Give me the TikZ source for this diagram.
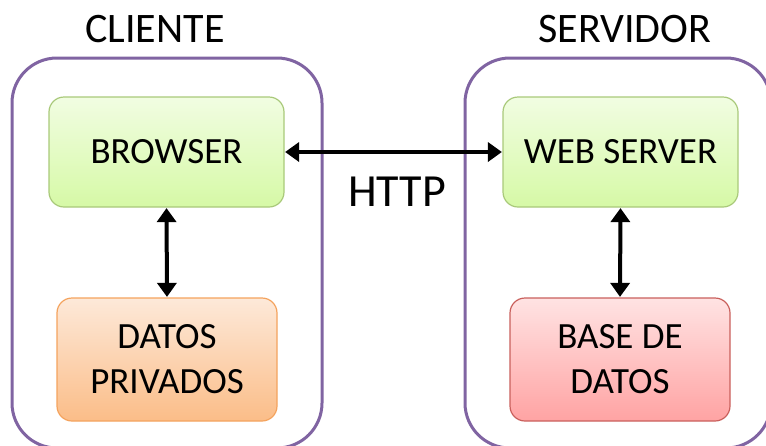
\documentclass[tikz,border=0pt]{standalone}
\usepackage{fontspec}
\setmainfont{Carlito}
\usetikzlibrary{arrows.meta}
\definecolor{groupline}{HTML}{8064A2}
\definecolor{greentop}{HTML}{F1FDE2}
\definecolor{greenbot}{HTML}{D6F9A6}
\definecolor{greenline}{HTML}{A9C97A}
\definecolor{orangetop}{HTML}{FDE9D9}
\definecolor{orangebot}{HTML}{FBBD88}
\definecolor{orangeline}{HTML}{F4A35E}
\definecolor{redtop}{HTML}{FFE3E3}
\definecolor{redbot}{HTML}{FFA3A3}
\definecolor{redline}{HTML}{C9605C}
\tikzset{
  group/.style={draw=groupline, line width=3pt, rounded corners=45pt,
    minimum width=#1, minimum height=390pt, inner sep=0pt},
  title/.style={font=\fontsize{42}{48}\selectfont, inner sep=0pt},
  block/.style={line width=1.2pt, rounded corners=15pt, inner sep=0pt,
    align=center, font=\fontsize{37}{45}\selectfont},
  tierbox/.style={block, draw=greenline, top color=greentop, bottom color=greenbot,
    minimum width=235pt, minimum height=110pt},
  localdata/.style={block, draw=orangeline, top color=orangetop, bottom color=orangebot,
    minimum width=220pt, minimum height=123pt},
  dbdata/.style={block, draw=redline, top color=redtop, bottom color=redbot,
    minimum width=220pt, minimum height=123pt},
  link/.style={line width=4pt, {Triangle[length=14pt,width=19pt]}-{Triangle[length=14pt,width=19pt]}, shorten <=0.5pt, shorten >=0.5pt}
}
\begin{document}
\begin{tikzpicture}[x=1pt,y=-1pt]
  \useasboundingbox (0,0) rectangle (766,445);
  % client and server groups
  \node[group=310pt] (client) at (167,253) {};
  \node[group=306pt] (server) at (618,253) {};
  \node[title] (clientlabel) at (155,29) {CLIENTE};
  \node[title] (serverlabel) at (625,29) {SERVIDOR};
  % components
  \node[tierbox] (browser) at (166.5,152) {BROWSER};
  \node[localdata] (private) at (167,359.5) {DATOS\\PRIVADOS};
  \node[tierbox] (webserver) at (620.5,152) {WEB SERVER};
  \node[dbdata] (database) at (620,359.5) {BASE DE\\DATOS};
  % connections
  \draw[link] (browser.east) -- (webserver.west);
  \node[title, font=\fontsize{46}{50}\selectfont] (http) at (397,192) {HTTP};
  \draw[link] (browser.south) -- (private.north);
  \draw[link] (webserver.south) -- (database.north);
\end{tikzpicture}
\end{document}
